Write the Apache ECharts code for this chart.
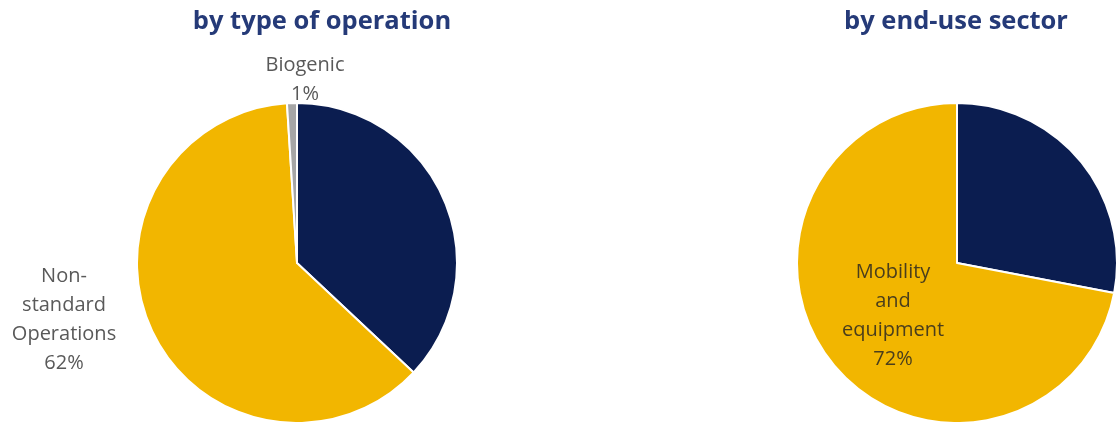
<!DOCTYPE html>
<html>
<head>
<meta charset="utf-8">
<script src="https://cdn.jsdelivr.net/npm/echarts@6/dist/echarts.min.js"></script>
<style>
html,body{margin:0;padding:0;background:#fff;}
#chart{width:1118px;height:422px;}
</style>
</head>
<body>
<div id="chart"></div>
<script>
// ---- data ----
const titles = ['by type of operation', 'by end-use sector'];
const operationNames = ['Standard Operations', 'Non-\nstandard\nOperations', 'Biogenic'];
const operationValues = [37, 62, 1];
const sectorNames = ['Other sectors', 'Mobility\nand\nequipment'];
const sectorValues = [28, 72];

const NAVY = '#0b1d50';
const YELLOW = '#f2b600';
const GREY = '#a6a6a6';
const TEXT = '#595959';
const TITLE = '#253a78';

const labelBase = {
  color: TEXT,
  fontFamily: 'Open Sans',
  fontSize: 20,
  lineHeight: 29,
  align: 'center',
  formatter: p => p.name + '\n' + p.value + '%'
};

const opColors = [NAVY, YELLOW, GREY];
const opData = operationNames.map((n, i) => ({
  name: n, value: operationValues[i],
  itemStyle: { color: opColors[i] },
  label: { show: i !== 0 }
}));
const secColors = [NAVY, YELLOW];
const secData = sectorNames.map((n, i) => ({
  name: n, value: sectorValues[i],
  itemStyle: { color: secColors[i] },
  label: { show: i !== 0, color: '#4a3e1c' }
}));

const titleStyle = { color: TITLE, fontFamily: 'Open Sans', fontWeight: 'bold', fontSize: 25.5 };

const chart = echarts.init(document.getElementById('chart'), null, {renderer: 'canvas'});
chart.setOption({
  animation: false,
  backgroundColor: '#fff',
  title: [
    { text: titles[0], left: 317, top: 4, textAlign: 'center', textStyle: titleStyle },
    { text: titles[1], left: 951, top: 4, textAlign: 'center', textStyle: titleStyle }
  ],
  series: [
    {
      type: 'pie',
      center: [297, 263],
      radius: [0, 160],
      startAngle: 90,
      clockwise: true,
      avoidLabelOverlap: false,
      itemStyle: { borderColor: '#fff', borderWidth: 2 },
      label: Object.assign({}, labelBase, { position: 'outside' }),
      labelLine: { show: false },
      labelLayout: function (p) {
        if (p.dataIndex === 2) return { x: 305, y: 80, align: 'center', verticalAlign: 'middle' };
        if (p.dataIndex === 1) return { x: 64, y: 320, align: 'center', verticalAlign: 'middle' };
        return {};
      },
      emphasis: { disabled: true },
      data: opData
    },
    {
      type: 'pie',
      center: [957, 263],
      radius: [0, 160],
      startAngle: 90,
      clockwise: true,
      itemStyle: { borderColor: '#fff', borderWidth: 2 },
      label: Object.assign({}, labelBase, { position: 'inside' }),
      labelLine: { show: false },
      emphasis: { disabled: true },
      data: secData
    }
  ]
});
</script>
</body>
</html>
